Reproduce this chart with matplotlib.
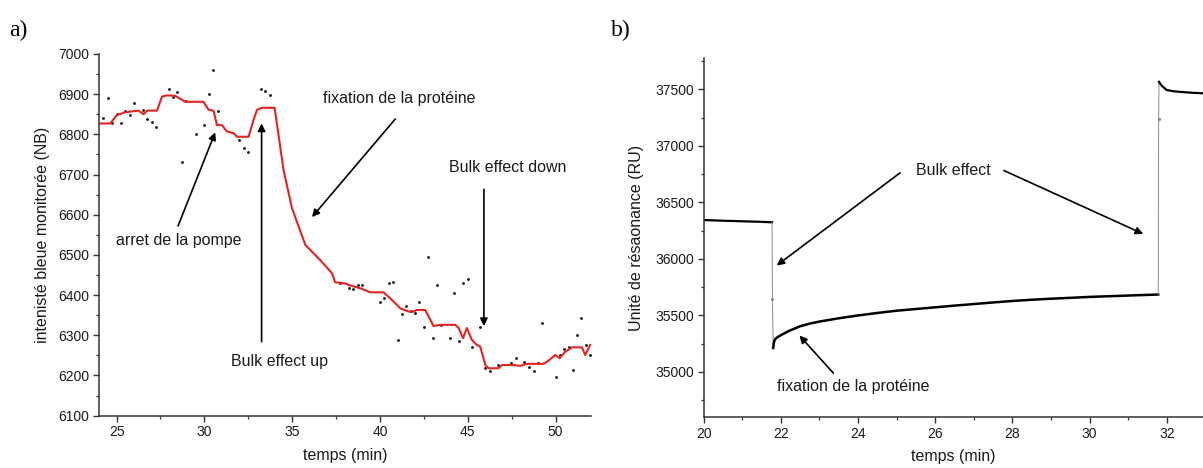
"""
Sensorgrammes : a) intensité bleue monitorée, b) SPR (unité de résonance)
"""

import numpy as np
import matplotlib.pyplot as plt
from matplotlib.ticker import MultipleLocator

plt.rcParams["font.family"] = ["Liberation Sans", "DejaVu Sans"]

# fmt: off
RED   = "#e5231f"
AXIS  = "#333333"
TEXT  = "#1a1a1a"

# Panel a — courbe lissée (rouge)
t_smooth = [24.0, 24.64, 25.02, 25.5, 26.25, 26.54, 26.73, 27.3, 27.59, 27.87, 28.34, 28.91,
            29.95, 30.24, 30.52, 30.72, 31.0, 31.29, 31.66, 31.86, 32.52, 32.8, 33.0, 33.28,
            34.0, 34.51, 34.99, 35.75, 36.6, 37.27, 37.45, 38.02, 38.31, 38.88, 39.45, 40.2,
            40.59, 41.16, 41.63, 41.91, 42.1, 42.58, 43.05, 43.43, 44.29, 44.48, 44.73, 44.95,
            45.24, 45.52, 45.71, 46.0, 46.18, 46.75, 46.95, 47.61, 47.99, 48.37, 49.32, 49.6,
            49.98, 50.23, 50.55, 50.93, 51.5, 51.69, 51.97]
nb_smooth = [6827, 6827, 6848, 6855, 6859, 6850, 6859, 6859, 6894, 6897, 6896, 6881,
             6881, 6861, 6859, 6823, 6823, 6807, 6803, 6794, 6794, 6836, 6861, 6866,
             6866, 6711, 6616, 6525, 6487, 6454, 6432, 6429, 6424, 6417, 6407, 6407,
             6392, 6367, 6359, 6359, 6363, 6363, 6323, 6326, 6326, 6318, 6293, 6318,
             6288, 6276, 6272, 6226, 6218, 6218, 6226, 6226, 6224, 6229, 6229, 6237,
             6251, 6243, 6259, 6270, 6270, 6251, 6276]

# Panel a — points bruts
t_raw = [24.23, 24.49, 24.74, 25.02, 25.25, 25.5, 25.74, 26.01, 26.5, 26.73, 27.02, 27.24,
         28.0, 28.21, 28.47, 28.72, 28.97, 29.5, 29.99, 30.24, 30.49, 30.75, 31.95, 32.23,
         32.48, 33.22, 33.47, 33.71, 37.7, 38.25, 38.46, 38.75, 38.99, 39.98, 40.25, 40.49,
         40.77, 41.0, 41.25, 41.5, 41.76, 42.01, 42.24, 42.48, 42.73, 43.0, 43.25, 43.49,
         44.0, 44.23, 44.5, 44.74, 44.99, 45.24, 45.71, 45.99, 46.24, 46.75, 47.48, 47.74,
         48.23, 48.5, 48.75, 49.0, 49.22, 50.0, 50.23, 50.5, 50.74, 50.97, 51.22, 51.46,
         51.73, 51.97]
nb_raw = [6840, 6890, 6828, 6851, 6828, 6858, 6848, 6877, 6861, 6837, 6830, 6819,
          6914, 6894, 6906, 6730, 6884, 6802, 6823, 6900, 6960, 6859, 6786, 6767,
          6757, 6914, 6908, 6897, 6431, 6417, 6415, 6424, 6424, 6382, 6394, 6431,
          6433, 6288, 6353, 6373, 6361, 6356, 6384, 6321, 6496, 6293, 6425, 6326,
          6293, 6405, 6287, 6430, 6440, 6272, 6320, 6218, 6210, 6226, 6230, 6243,
          6234, 6220, 6212, 6230, 6331, 6197, 6251, 6265, 6272, 6214, 6301, 6342,
          6276, 6251]

# Panel b — segments du sensorgramme
t_base   = [20.0, 20.5, 21.0, 21.5, 21.77]
ru_base  = [36344, 36338, 36333, 36328, 36324]
t_drop   = [21.77, 21.78, 21.80]
ru_drop  = [36324, 35646, 35212]
t_assoc  = [21.80, 21.82, 21.85, 21.9, 22.0, 22.2, 22.5, 22.75, 23.0, 23.5, 24.0, 24.5,
            25.0, 25.5, 26.0, 26.5, 27.0, 27.5, 28.0, 28.5, 29.0, 29.5, 30.0, 30.5,
            31.0, 31.5, 31.78]
ru_assoc = [35212, 35265, 35290, 35305, 35326, 35362, 35405, 35428, 35446, 35475, 35500, 35522,
            35542, 35557, 35572, 35587, 35601, 35615, 35628, 35639, 35648, 35656, 35664, 35670,
            35676, 35682, 35685]
t_rise   = [31.78, 31.79, 31.80]
ru_rise  = [35685, 37235, 37567]
t_dissoc = [31.80, 31.85, 31.9, 32.0, 32.2, 32.45, 32.7, 32.95]
ru_dissoc = [37567, 37540, 37523, 37494, 37482, 37475, 37469, 37465]
# fmt: on

fig = plt.figure(figsize=(12.03, 4.68), dpi=100)
fig.patch.set_facecolor("white")

ax_a = fig.add_axes([0.0823, 0.1118, 0.4087, 0.7729])
ax_b = fig.add_axes([0.5850, 0.1083, 0.4150, 0.7677])

for ax in (ax_a, ax_b):
    ax.spines["top"].set_visible(False)
    ax.spines["right"].set_visible(False)
    for s in ("left", "bottom"):
        ax.spines[s].set_color(AXIS)
        ax.spines[s].set_linewidth(1.1)
    ax.tick_params(which="major", direction="out", length=4, width=1.0, color=AXIS,
                   labelsize=10, labelcolor=TEXT, pad=3)
    ax.tick_params(which="minor", direction="out", length=2.5, width=0.9, color=AXIS)

arrow = dict(arrowstyle="-|>", color="black", lw=1.2, mutation_scale=11, shrinkA=0, shrinkB=0)

# Panel a
ax = ax_a
ax.plot(t_raw, nb_raw, ls="none", marker="o", ms=1.1, color="#222222")
ax.plot(t_smooth, nb_smooth, color=RED, lw=1.5)
ax.set_xlim(24, 52)
ax.set_ylim(6100, 7000)
ax.xaxis.set_major_locator(MultipleLocator(5))
ax.xaxis.set_minor_locator(MultipleLocator(2.5))
ax.yaxis.set_major_locator(MultipleLocator(100))
ax.yaxis.set_minor_locator(MultipleLocator(50))
ax.set_xlabel("temps (min)", fontsize=11.5, color=TEXT, labelpad=6)
ax.set_ylabel("intenisté bleue monitorée (NB)", fontsize=11.5, color=TEXT, labelpad=6)

ax.annotate("", xy=(30.62, 6805), xytext=(28.50, 6572), arrowprops=arrow)
ax.text(28.53, 6536, "arret de la pompe", fontsize=11.5, ha="center", va="center", color=TEXT)
ax.annotate("", xy=(33.26, 6827), xytext=(33.26, 6284), arrowprops=arrow)
ax.text(34.30, 6236, "Bulk effect up", fontsize=11.5, ha="center", va="center", color=TEXT)
ax.annotate("", xy=(36.13, 6594), xytext=(40.87, 6838), arrowprops=arrow)
ax.text(41.08, 6890, "fixation de la protéine", fontsize=11.5, ha="center", va="center", color=TEXT)
ax.annotate("", xy=(45.92, 6323), xytext=(45.92, 6663), arrowprops=arrow)
ax.text(47.25, 6718, "Bulk effect down", fontsize=11.5, ha="center", va="center", color=TEXT)

# Panel b
ax = ax_b
ax.plot(t_base, ru_base, color="black", lw=1.6)
ax.plot(t_drop, ru_drop, color="#8a8a8a", lw=0.7, marker="o", ms=1.2, markevery=[1])
ax.plot(t_assoc, ru_assoc, color="black", lw=1.8)
ax.plot(t_rise, ru_rise, color="#8a8a8a", lw=0.7, marker="o", ms=1.2, markevery=[1])
ax.plot(t_dissoc, ru_dissoc, color="black", lw=1.6)
ax.set_xlim(20, 32.94)
ax.set_ylim(34599, 37777)
ax.xaxis.set_major_locator(MultipleLocator(2))
ax.xaxis.set_minor_locator(MultipleLocator(1))
ax.yaxis.set_major_locator(MultipleLocator(500))
ax.yaxis.set_minor_locator(MultipleLocator(250))
ax.set_xlabel("temps (min)", fontsize=11.5, color=TEXT, labelpad=6)
ax.set_ylabel("Unité de résaonance (RU)", fontsize=11.5, color=TEXT, labelpad=8)

ax.annotate("", xy=(21.89, 35942), xytext=(25.09, 36762), arrowprops=arrow)
ax.annotate("", xy=(31.39, 36221), xytext=(27.78, 36782), arrowprops=arrow)
ax.text(26.46, 36782, "Bulk effect", fontsize=11.5, ha="center", va="center", color=TEXT)
ax.annotate("", xy=(22.48, 35322), xytext=(23.36, 34990), arrowprops=arrow)
ax.text(23.87, 34868, "fixation de la protéine", fontsize=11.5, ha="center", va="center", color=TEXT)

# Panel letters
fig.text(0.008, 0.935, "a)", fontsize=17, family="Liberation Serif", color="black", va="center")
fig.text(0.508, 0.935, "b)", fontsize=17, family="Liberation Serif", color="black", va="center")

plt.savefig("out.png", dpi=100, facecolor="white")
plt.close()
print("Saved: out.png")
